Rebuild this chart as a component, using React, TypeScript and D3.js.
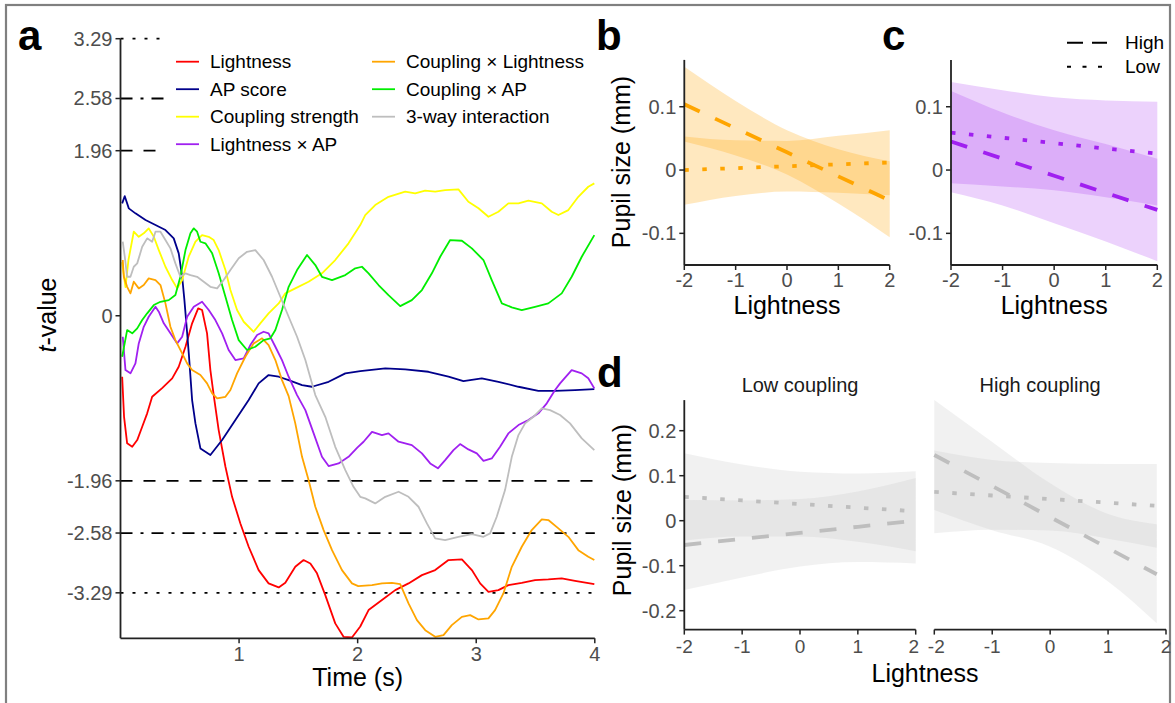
import React from 'react';
import * as d3 from 'd3';

const FONT = '"Liberation Sans", Arial, Helvetica, sans-serif';
const TICKC = '#4d4d4d';
const AXC = '#222';

type P = [number, number];

// ---------- Panel a : t-value time courses ----------
const seriesNames = ['Lightness', 'AP score', 'Coupling strength', 'Lightness × AP', 'Coupling × Lightness', 'Coupling × AP', '3-way interaction'];
const seriesColors = ['#FF0000', '#00008B', '#FFFF00', '#A020F0', '#FFA500', '#00EE00', '#BEBEBE'];

const lightness: P[] = [[0.014,-0.724],[0.03,-1.2],[0.056,-1.515],[0.099,-1.556],[0.141,-1.476],[0.183,-1.318],[0.225,-1.159],[0.267,-0.962],[0.351,-0.859],[0.436,-0.743],[0.491,-0.606],[0.548,-0.368],[0.604,-0.09],[0.655,0.088],[0.688,0.068],[0.73,-0.209],[0.758,-0.645],[0.786,-0.942],[0.828,-1.357],[0.885,-1.793],[0.941,-2.15],[1.011,-2.466],[1.081,-2.743],[1.165,-3.02],[1.249,-3.178],[1.334,-3.226],[1.39,-3.171],[1.474,-2.981],[1.544,-2.901],[1.601,-2.941],[1.657,-3.059],[1.727,-3.317],[1.811,-3.653],[1.881,-3.812],[1.952,-3.82],[2.022,-3.69],[2.092,-3.495],[2.205,-3.376],[2.317,-3.258],[2.429,-3.178],[2.542,-3.08],[2.654,-3.02],[2.766,-2.901],[2.879,-2.893],[2.963,-3.02],[3.033,-3.178],[3.103,-3.278],[3.187,-3.258],[3.271,-3.198],[3.384,-3.171],[3.496,-3.139],[3.608,-3.131],[3.721,-3.119],[3.833,-3.147],[3.996,-3.187]];

const apScore: P[] = [[0.014,1.335],[0.036,1.42],[0.07,1.275],[0.126,1.216],[0.211,1.137],[0.295,1.077],[0.379,1.018],[0.449,0.919],[0.491,0.741],[0.52,0.463],[0.539,0.186],[0.56,-0.17],[0.577,-0.467],[0.604,-1.001],[0.632,-1.278],[0.674,-1.575],[0.758,-1.654],[0.857,-1.476],[0.969,-1.239],[1.081,-1.001],[1.165,-0.803],[1.249,-0.704],[1.334,-0.724],[1.418,-0.764],[1.531,-0.823],[1.615,-0.843],[1.755,-0.784],[1.896,-0.684],[2.022,-0.657],[2.233,-0.625],[2.401,-0.637],[2.597,-0.665],[2.766,-0.724],[2.892,-0.776],[3.047,-0.743],[3.187,-0.784],[3.356,-0.843],[3.524,-0.891],[3.665,-0.891],[3.833,-0.882],[3.996,-0.871]];

const couplingStrength: P[] = [[0.013,0.638],[0.042,0.341],[0.067,0.662],[0.112,0.998],[0.154,0.938],[0.196,0.979],[0.238,1.038],[0.281,0.938],[0.323,0.78],[0.379,0.582],[0.436,0.424],[0.478,0.325],[0.52,0.424],[0.575,0.701],[0.632,0.879],[0.688,0.958],[0.744,0.938],[0.786,0.899],[0.828,0.78],[0.885,0.543],[0.927,0.305],[0.983,0.068],[1.039,-0.071],[1.123,-0.19],[1.179,-0.09],[1.249,0.029],[1.334,0.147],[1.39,0.266],[1.474,0.325],[1.586,0.404],[1.699,0.504],[1.811,0.662],[1.923,0.86],[2.022,1.077],[2.064,1.196],[2.148,1.315],[2.26,1.413],[2.401,1.473],[2.485,1.454],[2.569,1.485],[2.654,1.473],[2.738,1.493],[2.85,1.501],[2.934,1.354],[3.019,1.276],[3.103,1.176],[3.187,1.235],[3.271,1.335],[3.356,1.335],[3.44,1.366],[3.553,1.335],[3.637,1.235],[3.693,1.196],[3.777,1.255],[3.861,1.413],[3.945,1.532],[3.996,1.572]];

const lightnessAP: P[] = [[0.019,-0.249],[0.042,-0.645],[0.084,-0.684],[0.126,-0.565],[0.154,-0.328],[0.196,-0.131],[0.238,-0.012],[0.295,0.107],[0.323,0.048],[0.365,-0.09],[0.421,-0.209],[0.478,-0.328],[0.52,-0.249],[0.562,-0.012],[0.618,0.107],[0.688,0.166],[0.744,0.068],[0.8,-0.051],[0.857,-0.209],[0.912,-0.407],[0.969,-0.526],[1.039,-0.506],[1.095,-0.348],[1.152,-0.229],[1.207,-0.19],[1.249,-0.209],[1.306,-0.368],[1.362,-0.526],[1.418,-0.724],[1.489,-0.942],[1.559,-1.12],[1.629,-1.397],[1.699,-1.675],[1.755,-1.785],[1.839,-1.753],[1.923,-1.675],[1.997,-1.565],[2.05,-1.496],[2.121,-1.378],[2.205,-1.417],[2.26,-1.397],[2.345,-1.496],[2.457,-1.536],[2.542,-1.634],[2.612,-1.753],[2.677,-1.812],[2.738,-1.714],[2.808,-1.595],[2.864,-1.524],[2.934,-1.587],[3.005,-1.634],[3.061,-1.722],[3.131,-1.694],[3.201,-1.556],[3.271,-1.397],[3.356,-1.298],[3.44,-1.238],[3.524,-1.159],[3.595,-1.04],[3.665,-0.882],[3.707,-0.803],[3.805,-0.645],[3.89,-0.684],[3.945,-0.743],[3.996,-0.862]];

const couplingLightness: P[] = [[0.019,0.662],[0.028,0.463],[0.056,0.344],[0.084,0.266],[0.112,0.404],[0.154,0.325],[0.196,0.365],[0.238,0.444],[0.295,0.424],[0.337,0.365],[0.379,0.147],[0.421,-0.131],[0.463,-0.289],[0.52,-0.447],[0.562,-0.565],[0.604,-0.645],[0.674,-0.704],[0.73,-0.803],[0.773,-0.922],[0.815,-0.981],[0.885,-0.962],[0.927,-0.882],[0.983,-0.684],[1.053,-0.487],[1.123,-0.328],[1.194,-0.268],[1.249,-0.348],[1.306,-0.526],[1.362,-0.764],[1.418,-0.954],[1.474,-1.278],[1.531,-1.675],[1.586,-1.951],[1.643,-2.268],[1.713,-2.545],[1.784,-2.783],[1.868,-3.02],[1.952,-3.178],[2.005,-3.21],[2.121,-3.198],[2.205,-3.178],[2.289,-3.171],[2.359,-3.186],[2.429,-3.416],[2.5,-3.614],[2.57,-3.733],[2.654,-3.812],[2.724,-3.792],[2.794,-3.673],[2.879,-3.575],[2.949,-3.555],[3.019,-3.606],[3.103,-3.594],[3.159,-3.495],[3.229,-3.297],[3.3,-2.981],[3.384,-2.743],[3.468,-2.545],[3.553,-2.418],[3.608,-2.426],[3.693,-2.525],[3.777,-2.625],[3.861,-2.783],[3.945,-2.862],[3.996,-2.901]];

const couplingAP: P[] = [[0.014,-0.487],[0.056,-0.17],[0.099,-0.209],[0.141,-0.15],[0.183,-0.051],[0.225,0.029],[0.281,0.127],[0.337,0.166],[0.407,0.186],[0.463,0.246],[0.505,0.463],[0.548,0.78],[0.59,0.979],[0.618,1.038],[0.646,0.998],[0.674,0.879],[0.716,0.86],[0.773,0.741],[0.828,0.504],[0.885,0.226],[0.941,-0.051],[0.997,-0.289],[1.067,-0.407],[1.137,-0.368],[1.207,-0.289],[1.264,-0.268],[1.306,-0.17],[1.362,0.068],[1.418,0.344],[1.489,0.543],[1.573,0.721],[1.643,0.602],[1.699,0.463],[1.784,0.424],[1.896,0.483],[1.98,0.563],[2.036,0.582],[2.092,0.504],[2.176,0.365],[2.26,0.246],[2.359,0.115],[2.457,0.186],[2.542,0.305],[2.626,0.504],[2.696,0.701],[2.78,0.899],[2.879,0.891],[2.963,0.8],[3.061,0.662],[3.131,0.424],[3.216,0.147],[3.3,0.1],[3.384,0.068],[3.496,0.107],[3.608,0.147],[3.721,0.266],[3.805,0.463],[3.89,0.701],[3.996,0.958]];

const threeWay: P[] = [[0.019,0.879],[0.036,0.701],[0.056,0.463],[0.084,0.463],[0.112,0.582],[0.141,0.622],[0.183,0.819],[0.225,0.919],[0.267,0.879],[0.295,0.998],[0.337,0.998],[0.379,0.899],[0.421,0.8],[0.463,0.622],[0.505,0.463],[0.548,0.504],[0.59,0.483],[0.646,0.463],[0.702,0.404],[0.758,0.344],[0.815,0.325],[0.87,0.424],[0.927,0.543],[0.997,0.682],[1.067,0.76],[1.137,0.78],[1.207,0.662],[1.278,0.463],[1.348,0.226],[1.418,-0.012],[1.489,-0.249],[1.559,-0.526],[1.615,-0.803],[1.643,-0.942],[1.727,-1.2],[1.811,-1.556],[1.896,-1.833],[1.965,-2.031],[2.022,-2.15],[2.064,-2.169],[2.148,-2.228],[2.233,-2.15],[2.345,-2.09],[2.429,-2.15],[2.513,-2.268],[2.584,-2.466],[2.654,-2.644],[2.738,-2.664],[2.85,-2.625],[2.963,-2.593],[3.061,-2.625],[3.117,-2.584],[3.173,-2.387],[3.243,-2.07],[3.3,-1.675],[3.356,-1.417],[3.412,-1.278],[3.482,-1.2],[3.553,-1.1],[3.623,-1.12],[3.707,-1.179],[3.791,-1.278],[3.89,-1.456],[3.996,-1.595]];

const seriesData: P[][] = [lightness, apScore, couplingStrength, lightnessAP, couplingLightness, couplingAP, threeWay];

const yTicksA = [3.29, 2.58, 1.96, 0, -1.96, -2.58, -3.29];
const xTicksA = [1, 2, 3, 4];
const refValues = [3.29, 2.58, 1.96, -1.96, -2.58, -3.29];

// ---------- Panels b, c, d : model predictions ----------
const lightX = [-2, -1, 0, 1, 2];
const lightXHighCoupling = [-2, -1, 0, 1, 1.84];
const yTicksBC = [0.1, 0, -0.1];
const yTicksD = [0.2, 0.1, 0, -0.1, -0.2];
const xTicksLight = [-2, -1, 0, 1, 2];

// b: Coupling x Lightness
const bHighFit = [0.104, 0.066, 0.028, -0.01, -0.048];
const bHighLo = [0.045, 0.023, -0.007, -0.053, -0.106];
const bHighHi = [0.163, 0.109, 0.063, 0.033, 0.014];
const bLowFit = [0.0, 0.003, 0.006, 0.009, 0.012];
const bLowLo = [-0.055, -0.041, -0.034, -0.036, -0.04];
const bLowHi = [0.053, 0.047, 0.046, 0.054, 0.063];

// c: Lightness x AP
const cHighFit = [0.045, 0.018, -0.009, -0.036, -0.063];
const cHighLo = [-0.035, -0.056, -0.084, -0.113, -0.144];
const cHighHi = [0.125, 0.091, 0.063, 0.041, 0.018];
const cLowFit = [0.059, 0.051, 0.0425, 0.034, 0.026];
const cLowLo = [-0.021, -0.026, -0.032, -0.043, -0.056];
const cLowHi = [0.139, 0.126, 0.115, 0.11, 0.108];

// d: 3-way interaction, low coupling facet
const dLCHighFit = [-0.054, -0.0405, -0.027, -0.0135, 0.0];
const dLCHighLo = [-0.154, -0.126, -0.102, -0.092, -0.095];
const dLCHighHi = [0.046, 0.045, 0.048, 0.065, 0.095];
const dLCLowFit = [0.053, 0.045, 0.037, 0.029, 0.021];
const dLCLowLo = [-0.044, -0.035, -0.035, -0.047, -0.068];
const dLCLowHi = [0.15, 0.125, 0.109, 0.105, 0.11];

// d: high coupling facet
const dHCHighFit = [0.146, 0.077, 0.008, -0.061, -0.119];
const dHCHighLo = [0.024, -0.021, -0.058, -0.135, -0.228];
const dHCHighHi = [0.268, 0.175, 0.083, 0.015, -0.008];
const dHCLowFit = [0.064, 0.056, 0.048, 0.04, 0.033];
const dHCLowLo = [-0.028, -0.02, -0.022, -0.04, -0.06];
const dHCLowHi = [0.156, 0.135, 0.128, 0.126, 0.126];

const DASHED = '17 17';
const DOTTED = '4.5 13.5';

type Sc = d3.ScaleLinear<number, number>;

function YAxis({ x, y, ticks, fmt, size = 20 }: { x: number; y: Sc; ticks: number[]; fmt: (v: number) => string; size?: number }) {
  const [r0, r1] = y.range();
  return (
    <g>
      <line x1={x} x2={x} y1={r0} y2={r1} stroke={AXC} strokeWidth={1.8} />
      {ticks.map((t) => (
        <g key={t}>
          <line x1={x - 5} x2={x} y1={y(t)} y2={y(t)} stroke={AXC} strokeWidth={1.5} />
          <text x={x - 8} y={y(t)} dy="0.35em" textAnchor="end" fontSize={size} fill={TICKC} fontFamily={FONT}>{fmt(t)}</text>
        </g>
      ))}
    </g>
  );
}

function XAxis({ y, x, ticks, baseline, size = 20, nudge }: { y: number; x: Sc; ticks: number[]; baseline: number; size?: number; nudge?: (t: number) => number }) {
  const [r0, r1] = x.range();
  return (
    <g>
      <line x1={r0} x2={r1} y1={y} y2={y} stroke={AXC} strokeWidth={1.8} />
      {ticks.map((t) => (
        <g key={t}>
          <line x1={x(t)} x2={x(t)} y1={y} y2={y + 5} stroke={AXC} strokeWidth={1.5} />
          <text x={x(t) + (nudge ? nudge(t) : 0)} y={baseline} textAnchor="middle" fontSize={size} fill={TICKC} fontFamily={FONT}>{t}</text>
        </g>
      ))}
    </g>
  );
}

function Pred({ xs, fit, lo, hi, x, y, color, dash, alpha }: { xs: number[]; fit: number[]; lo: number[]; hi: number[]; x: Sc; y: Sc; color: string; dash: string; alpha: number }) {
  const idx = xs.map((_, i) => i);
  const area = d3.area<number>().x((i) => x(xs[i])).y0((i) => y(lo[i])).y1((i) => y(hi[i])).curve(d3.curveMonotoneX);
  const line = d3.line<number>().x((i) => x(xs[i])).y((i) => y(fit[i]));
  return (
    <g>
      <path d={area(idx) || ''} fill={color} fillOpacity={alpha} stroke="none" />
      <path d={line(idx) || ''} fill="none" stroke={color} strokeWidth={3.8} strokeDasharray={dash} />
    </g>
  );
}

export default function App() {
  // panel a scales
  const xA = d3.scaleLinear().domain([0, 4]).range([120.5, 594.8]);
  const yA = d3.scaleLinear().domain([-3.83, 3.29]).range([638.3, 38.7]);
  const lineA = d3.line<P>().x((d) => xA(d[0])).y((d) => yA(d[1]));

  const refDash = (v: number) => (Math.abs(v) === 3.29 ? '3 9' : Math.abs(v) === 2.58 ? '12 8 3 8' : '12 11');

  // panels b/c
  const yBC = d3.scaleLinear().domain([-0.15, 0.174]).range([265, 59.9]);
  const xB = d3.scaleLinear().domain([-2, 2]).range([684.3, 889.7]);
  const xC = d3.scaleLinear().domain([-2, 2]).range([951, 1157.3]);
  // panel d
  const yD = d3.scaleLinear().domain([-0.242, 0.268]).range([629.6, 400.1]);
  const xD1 = d3.scaleLinear().domain([-2, 2]).range([684.3, 915.7]);
  const xD2 = d3.scaleLinear().domain([-2, 2]).range([934.3, 1166]);

  const fmtBC = (v: number) => (v === 0 ? '0' : d3.format('.1f')(v).replace('−', '-'));

  const ORANGE = '#FFA500';
  const PURPLE = '#A020F0';
  const GRAY = '#BEBEBE';

  const legendRows = [
    { i: 0, col: 0, row: 0 }, { i: 1, col: 0, row: 1 }, { i: 2, col: 0, row: 2 }, { i: 3, col: 0, row: 3 },
    { i: 4, col: 1, row: 0 }, { i: 5, col: 1, row: 1 }, { i: 6, col: 1, row: 2 },
  ];

  return (
    <svg width={1175} height={703} style={{ position: 'absolute', left: 0, top: 0, background: '#fff' }} fontFamily={FONT}>
      <rect x={0} y={0} width={1175} height={703} fill="#fff" />
      <rect x={6} y={5} width={1164} height={730} fill="none" stroke="#808080" strokeWidth={2.2} />

      {/* ---------- panel a ---------- */}
      <text x={18} y={50} fontSize={42} fontWeight="bold" fill="#000">a</text>
      {refValues.map((v) => (
        <line key={v} x1={xA(0)} x2={xA(4)} y1={yA(v)} y2={yA(v)} stroke="#000" strokeWidth={1.8} strokeDasharray={refDash(v)} />
      ))}
      <rect x={165} y={26} width={432} height={134} fill="#fff" />
      {seriesData.map((s, i) => (
        <path key={i} d={lineA(s) || ''} fill="none" stroke={seriesColors[i]} strokeWidth={1.8} strokeLinejoin="round" />
      ))}
      <YAxis x={xA(0)} y={yA} ticks={yTicksA} fmt={(v) => (v === 0 ? '0' : v.toFixed(2))} />
      <XAxis y={yA(-3.83)} x={xA} ticks={xTicksA} baseline={661} />
      <text x={xA(2)} y={686} textAnchor="middle" fontSize={25} fill="#000">Time (s)</text>
      <text transform={`translate(56,315) rotate(-90)`} textAnchor="middle" fontSize={25} fill="#000">
        <tspan fontStyle="italic">t</tspan>-value
      </text>
      {legendRows.map(({ i, col, row }) => {
        const x0 = col === 0 ? 176 : 372;
        const yy = 61.7 + row * 27.5;
        return (
          <g key={i}>
            <line x1={x0} x2={x0 + 23} y1={yy} y2={yy} stroke={seriesColors[i]} strokeWidth={1.8} />
            <text x={x0 + 34} y={yy} dy="0.35em" fontSize={19} fill="#000">{seriesNames[i]}</text>
          </g>
        );
      })}

      {/* ---------- panel b ---------- */}
      <text x={596} y={50} fontSize={42} fontWeight="bold" fill="#000">b</text>
      <Pred xs={lightX} fit={bLowFit} lo={bLowLo} hi={bLowHi} x={xB} y={yBC} color={ORANGE} dash={DOTTED} alpha={0.25} />
      <Pred xs={lightX} fit={bHighFit} lo={bHighLo} hi={bHighHi} x={xB} y={yBC} color={ORANGE} dash={DASHED} alpha={0.25} />
      <YAxis x={xB(-2)} y={yBC} ticks={yTicksBC} fmt={fmtBC} />
      <XAxis y={265} x={xB} ticks={xTicksLight} baseline={287} />
      <text x={xB(0)} y={314} textAnchor="middle" fontSize={25} fill="#000">Lightness</text>
      <text transform={`translate(630,162) rotate(-90)`} textAnchor="middle" fontSize={25} fill="#000">Pupil size (mm)</text>

      {/* ---------- panel c ---------- */}
      <text x={882} y={50} fontSize={42} fontWeight="bold" fill="#000">c</text>
      <Pred xs={lightX} fit={cLowFit} lo={cLowLo} hi={cLowHi} x={xC} y={yBC} color={PURPLE} dash={DOTTED} alpha={0.2} />
      <Pred xs={lightX} fit={cHighFit} lo={cHighLo} hi={cHighHi} x={xC} y={yBC} color={PURPLE} dash={DASHED} alpha={0.2} />
      <YAxis x={xC(-2)} y={yBC} ticks={yTicksBC} fmt={fmtBC} />
      <XAxis y={265} x={xC} ticks={xTicksLight} baseline={287} />
      <text x={xC(0)} y={314} textAnchor="middle" fontSize={25} fill="#000">Lightness</text>
      <line x1={1067} x2={1107} y1={42.7} y2={42.7} stroke="#000" strokeWidth={2} strokeDasharray="16 9" />
      <text x={1125} y={42.7} dy="0.35em" fontSize={19} fill="#000">High</text>
      <line x1={1067} x2={1107} y1={66.7} y2={66.7} stroke="#000" strokeWidth={2} strokeDasharray="4 11.5" />
      <text x={1125} y={66.7} dy="0.35em" fontSize={19} fill="#000">Low</text>

      {/* ---------- panel d ---------- */}
      <text x={597} y={387} fontSize={42} fontWeight="bold" fill="#000">d</text>
      <text x={xD1(0)} y={385} dy="0.35em" textAnchor="middle" fontSize={20} fill="#1a1a1a">Low coupling</text>
      <text x={xD2(0) - 10} y={385} dy="0.35em" textAnchor="middle" fontSize={20} fill="#1a1a1a">High coupling</text>
      <Pred xs={lightX} fit={dLCLowFit} lo={dLCLowLo} hi={dLCLowHi} x={xD1} y={yD} color={GRAY} dash={DOTTED} alpha={0.22} />
      <Pred xs={lightX} fit={dLCHighFit} lo={dLCHighLo} hi={dLCHighHi} x={xD1} y={yD} color={GRAY} dash={DASHED} alpha={0.22} />
      <Pred xs={lightXHighCoupling} fit={dHCLowFit} lo={dHCLowLo} hi={dHCLowHi} x={xD2} y={yD} color={GRAY} dash={DOTTED} alpha={0.22} />
      <Pred xs={lightXHighCoupling} fit={dHCHighFit} lo={dHCHighLo} hi={dHCHighHi} x={xD2} y={yD} color={GRAY} dash={DASHED} alpha={0.22} />
      <YAxis x={xD1(-2)} y={yD} ticks={yTicksD} fmt={fmtBC} />
      <XAxis y={629.6} x={xD1} ticks={xTicksLight} baseline={653} size={19} nudge={(t) => (t === 2 ? -2 : 0)} />
      <XAxis y={629.6} x={xD2} ticks={xTicksLight} baseline={653} size={19} nudge={(t) => (t === -2 ? 2 : 0)} />
      <text x={925} y={682} textAnchor="middle" fontSize={25} fill="#000">Lightness</text>
      <text transform={`translate(631,510) rotate(-90)`} textAnchor="middle" fontSize={25} fill="#000">Pupil size (mm)</text>
    </svg>
  );
}
